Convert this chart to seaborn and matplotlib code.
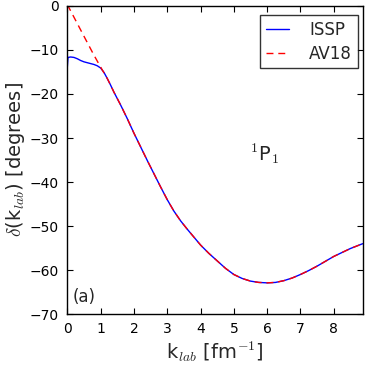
import numpy as np
import pandas as pd
import matplotlib
matplotlib.use("Agg")
import matplotlib.pyplot as plt
import seaborn as sns

# Phase shift readings, 1P1 channel
k_low_issp = [0.0, 0.02, 0.1, 0.2, 0.3, 0.4, 0.5, 0.6, 0.7, 0.8, 0.9, 1.0, 1.1]
d_low_issp = [-13.8, -11.7, -11.6, -11.7, -12.0, -12.4, -12.7, -12.9, -13.1, -13.3, -13.6, -14.1, -15.1]

k_low_av18 = [0.0, 0.5, 0.8, 1.0, 1.1]
d_low_av18 = [0.3, -6.9, -11.2, -13.9, -15.2]

# both curves agree from here on
k_common = [1.2, 1.3, 1.4, 1.6, 1.8, 2.0, 2.2, 2.4, 2.6, 2.8, 3.0, 3.2, 3.4, 3.6,
            3.8, 4.0, 4.25, 4.5, 4.75, 5.0, 5.25, 5.5, 5.75, 6.0, 6.25, 6.5,
            6.75, 7.0, 7.25, 7.5, 7.75, 8.0, 8.25, 8.5, 8.87]
d_common = [-16.5, -18.0, -19.6, -22.5, -25.6, -28.9, -32.0, -35.1, -38.1, -41.1,
            -44.0, -46.6, -48.8, -50.7, -52.5, -54.3, -56.2, -57.9, -59.6, -61.0,
            -61.9, -62.5, -62.8, -62.9, -62.8, -62.4, -61.8, -61.0, -60.1, -59.1,
            -58.0, -56.9, -56.0, -55.1, -54.0]

issp = pd.DataFrame({"k": k_low_issp + k_common, "delta": d_low_issp + d_common})
av18 = pd.DataFrame({"k": k_low_av18 + k_common, "delta": d_low_av18 + d_common})

sns.set_style("ticks")
plt.rcParams["font.family"] = ["DejaVu Sans"]
plt.rcParams["mathtext.fontset"] = "cm"

fig = plt.figure(figsize=(3.66, 3.70), dpi=100)
ax = fig.add_axes([0.184, 0.151, 0.807, 0.833])

sns.lineplot(data=issp, x="k", y="delta", ax=ax, color="b", lw=1.0,
             label="ISSP", sort=False, estimator=None)
sns.lineplot(data=av18, x="k", y="delta", ax=ax, color="r", lw=1.0,
             label="AV18", sort=False, estimator=None)
ax.lines[1].set_dashes([5, 3.5])

ax.set_xlim(0, 8.87)
ax.set_ylim(-70, 0)
ax.set_xticks(range(0, 9))
ax.set_yticks(range(-70, 1, 10))
ax.tick_params(direction="in", length=4, width=0.8, top=True, right=True,
               labelsize=10, pad=6, colors="black")
for s in ax.spines.values():
    s.set_visible(True)
    s.set_linewidth(1.0)
    s.set_color("black")

ax.set_xlabel(r"k$_{lab}$ [fm$^{-1}$]", fontsize=14, labelpad=2)
ax.set_ylabel(r"$\delta$(k$_{lab}$) [degrees]", fontsize=14, labelpad=2)

ax.text(5.5, -33.5, r"$^{1}$P$_{1}$", fontsize=14, va="center")
ax.text(0.17, -66, "(a)", fontsize=12, va="center")

leg = ax.legend(loc="upper right", bbox_to_anchor=(0.984, 0.971),
                fontsize=12, handlelength=1.4, handletextpad=1.2,
                borderpad=0.35, labelspacing=0.35, fancybox=False,
                borderaxespad=0.0)
leg.get_frame().set_edgecolor("black")
leg.get_frame().set_linewidth(1.0)

fig.savefig("out.png", dpi=100)
